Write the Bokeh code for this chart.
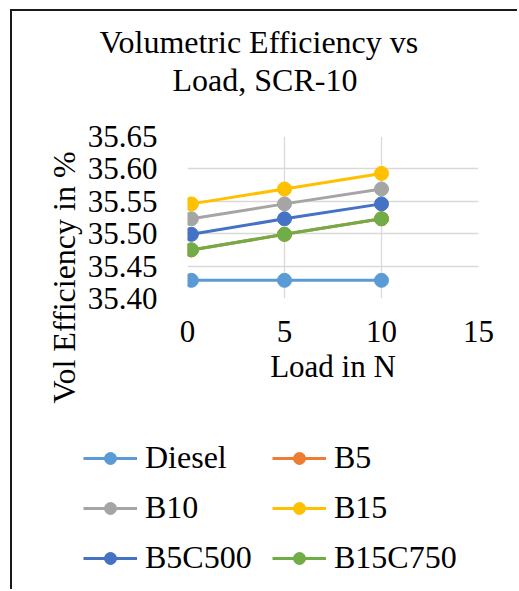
from bokeh.embed import file_html
from bokeh.models import (FixedTicker, Legend, LegendItem, NumeralTickFormatter,
                          Range1d, Title)
from bokeh.plotting import figure
from bokeh.resources import INLINE

# Load in N and volumetric efficiency (%) per fuel blend
load = [0.2, 5, 10]
diesel = [35.428, 35.428, 35.428]
b5 = [35.475, 35.499, 35.523]
b10 = [35.523, 35.546, 35.569]
b15 = [35.546, 35.569, 35.593]
b5c500 = [35.499, 35.523, 35.546]
b15c750 = [35.475, 35.499, 35.523]

series_names = ["Diesel", "B5", "B10", "B15", "B5C500", "B15C750"]
series_values = [diesel, b5, b10, b15, b5c500, b15c750]
series_colors = ["#5B9BD5", "#ED7D31", "#A5A5A5", "#FFC000", "#4472C4", "#70AD47"]

x_ticks = [0, 5, 10, 15]
y_ticks = [35.40, 35.45, 35.50, 35.55, 35.60, 35.65]

FONT = "Liberation Serif"
BORDER = "2px solid #1a1a1a"

# ---- main chart (chart border drawn with CSS on its left and top edges) ----
p = figure(width=507, height=409, output_backend="svg", toolbar_location=None,
           x_range=Range1d(0, 15), y_range=Range1d(35.40, 35.65),
           min_border_left=175, min_border_right=41,
           min_border_top=125, min_border_bottom=122,
           margin=(9, 0, 0, 10))
p.styles = {"border-left": BORDER, "border-top": BORDER}
p.background_fill_color = "white"
p.border_fill_color = "white"
p.outline_line_color = None

for ax in (p.xaxis[0], p.yaxis[0]):
    ax.axis_line_color = None
    ax.major_tick_line_color = None
    ax.minor_tick_line_color = None
    ax.major_label_text_font = FONT
    ax.major_label_text_font_size = "31px"
    ax.major_label_text_color = "black"

p.xaxis.ticker = FixedTicker(ticks=x_ticks)
p.yaxis.ticker = FixedTicker(ticks=y_ticks)
p.yaxis.formatter = NumeralTickFormatter(format="0.00")
p.xaxis.major_label_standoff = 16
p.yaxis.major_label_standoff = 24
p.xaxis.axis_label = "Load in N"
p.xaxis.axis_label_text_font = FONT
p.xaxis.axis_label_text_font_size = "31px"
p.xaxis.axis_label_text_font_style = "normal"
p.xaxis.axis_label_text_color = "black"
p.xaxis.axis_label_standoff = 4

p.xgrid.ticker = FixedTicker(ticks=x_ticks)
p.ygrid.ticker = FixedTicker(ticks=y_ticks)
for g in (p.xgrid[0], p.ygrid[0]):
    g.grid_line_color = "#D9D9D9"
    g.grid_line_width = 1.3

for name, vals, col in zip(series_names, series_values, series_colors):
    p.line(load, vals, line_color=col, line_width=3)
    p.scatter(load, vals, size=14, fill_color=col, line_color=col)

# Title panels stack outward from the plot: spacer first, then the second line;
# p.title (first line) is always the outermost.
title_kw = dict(text_font=FONT, text_font_size="32px", text_font_style="normal",
                text_color="black", align="left")
p.add_layout(Title(text=" ", text_font_size="2px", standoff=35), "above")
p.add_layout(Title(text="Load, SCR-10", offset=-15, standoff=0, **title_kw), "above")
p.title = Title(text="Volumetric Efficiency vs", offset=-88, standoff=0, **title_kw)

# Y-axis title set in the left panel so it can sit lower than the plot centre
p.add_layout(Title(text="Vol Efficiency in %", offset=-105, standoff=6,
                   **title_kw), "left")

# ---- legend strip below the chart (its own root, so its frame is independent) ----
leg = figure(width=507, height=171, output_backend="svg", toolbar_location=None,
             x_range=Range1d(0, 1), y_range=Range1d(0, 1),
             x_axis_type=None, y_axis_type=None,
             min_border_left=71, min_border_right=0,
             min_border_top=0, min_border_bottom=13,
             margin=(0, 0, 0, 10))
leg.styles = {"border-left": BORDER}
leg.grid.visible = False
leg.outline_line_color = None
leg.background_fill_color = "white"
leg.border_fill_color = "white"

items = []
for name, col in zip(series_names, series_colors):
    ln = leg.line([-5, -4], [-5, -4], line_color=col, line_width=3)
    sc = leg.scatter([-5], [-5], size=14, fill_color=col, line_color=col)
    items.append(LegendItem(label=name, renderers=[ln, sc]))

legend = Legend(items=items, orientation="horizontal", ncols=2,
                location="bottom_left",
                label_text_font=FONT, label_text_font_size="32px",
                label_text_color="black", glyph_width=54, glyph_height=30,
                label_width=114, label_standoff=8, spacing=13, padding=4,
                margin=0, border_line_color=None, background_fill_alpha=0)
leg.add_layout(legend, "center")

open("out.html", "w").write(file_html([p, leg], INLINE))
